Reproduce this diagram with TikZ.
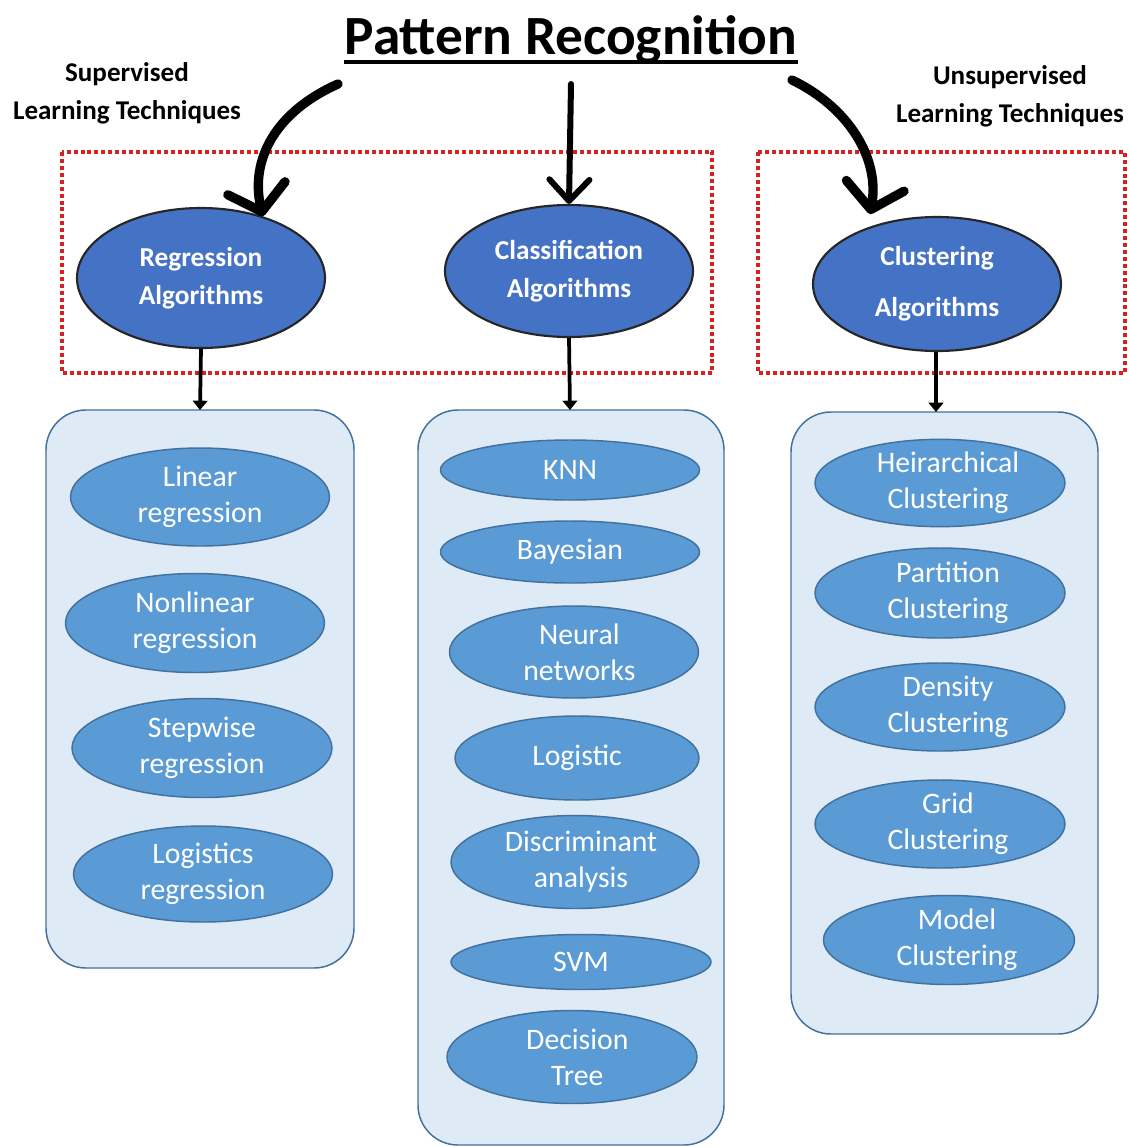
\documentclass[tikz,border=0pt]{standalone}
\usepackage{fontspec}
\setmainfont{Carlito}
\usetikzlibrary{shapes.geometric,arrows.meta}
\definecolor{darkblue}{HTML}{4472C4}
\definecolor{midblue}{HTML}{5B9BD5}
\definecolor{edgeblue}{HTML}{41719C}
\definecolor{paleblue}{HTML}{DEEAF6}
\definecolor{dotred}{HTML}{D42222}
\tikzset{
  topoval/.style n args={2}{ellipse, draw=black!85, line width=1.6pt, fill=darkblue,
    text=white, inner sep=0pt, minimum width=#1*0.75pt, minimum height=#2*0.75pt,
    align=center, font=\bfseries\fontsize{20.5}{28.5}\selectfont},
  oval/.style n args={2}{ellipse, draw=edgeblue, line width=1.1pt, fill=midblue,
    text=white, inner sep=0pt, minimum width=#1*0.75pt, minimum height=#2*0.75pt,
    align=center, font=\fontsize{22.3}{27}\selectfont},
  groupbox/.style={draw=edgeblue, line width=1.1pt, fill=paleblue, rounded corners=30pt},
  redframe/.style={draw=dotred, line width=3pt, dash pattern=on 3pt off 2.2pt},
  bigarrow/.style={line width=7pt, line cap=round,
    -{Straight Barb[length=18pt, width=44pt, round]}},
  midarrow/.style={line width=4.5pt, line cap=round,
    -{Straight Barb[length=16pt, width=30pt, round]}},
  smallarrow/.style={line width=2.8pt, -{Triangle[length=7pt, width=11pt]}},
  sidelabel/.style={align=center, font=\bfseries\fontsize{20.3}{28.5}\selectfont}
}
\begin{document}
\begin{tikzpicture}[x=0.75pt,y=-0.75pt]
\useasboundingbox (0,0) rectangle (1130,1147);

% title
\node[anchor=base, inner sep=0pt, font=\bfseries\fontsize{41.5}{48}\selectfont] (title) at (571,54) {Pattern Recognition};
\draw[line width=2.4pt] ([yshift=-6pt]title.base west) -- ([yshift=-6pt]title.base east);

% side labels
\node[sidelabel] (sup) at (127,93) {Supervised\\Learning Techniques};
\node[sidelabel] (unsup) at (1010,96) {Unsupervised\\Learning Techniques};

% dotted frames
\draw[redframe] (62,152) rectangle (712,373);
\draw[redframe] (758,152) rectangle (1125,373);

% algorithm families
\node[topoval={248}{140}] (reg) at (201,278) {Regression\\Algorithms};
\node[topoval={248}{132}] (cls) at (569,271) {Classification\\Algorithms};
\node[topoval={248}{134}, font=\bfseries\fontsize{20.5}{38}\selectfont] (clu) at (937,284) {Clustering\\Algorithms};

% arrows from the title
\coordinate (startL) at (338,84);
\coordinate (startM) at (571,84);
\coordinate (startR) at (792,80);
\coordinate (tipR) at (870,214);
\draw[bigarrow] (startL) .. controls (275,112) and (250,160) .. (reg.45);
\draw[midarrow] (startM) -- (cls.north);
\draw[bigarrow] (startR) .. controls (850,108) and (880,160) .. (tipR);

% group boxes
\draw[groupbox] (46,410) rectangle (354,968);
\draw[groupbox] (418,410) rectangle (724,1145);
\draw[groupbox] (791,412) rectangle (1098,1034);
\coordinate (box1top) at (200,410);
\coordinate (box2top) at (570,410);
\coordinate (box3top) at (936,412);

\draw[smallarrow] (reg.south) -- (box1top);
\draw[smallarrow] (cls.south) -- (box2top);
\draw[smallarrow] (clu.south -| box3top) -- (box3top);

% regression methods
\node[oval={259}{98}] (lin) at (200,497) {Linear\\regression};
\node[oval={259}{99}] (nonlin) at (195,623) {Nonlinear\\regression};
\node[oval={260}{99}] (stepw) at (202,748) {Stepwise\\regression};
\node[oval={259}{96}] (logreg) at (203,874) {Logistics\\regression};

% classification methods
\node[oval={259}{60}] (knn) at (570,470) {KNN};
\node[oval={259}{62}] (bay) at (570,552) {Bayesian};
\node[oval={249}{92}] (nn) at (574,652) {\hspace*{8pt}Neural\\\hspace*{8pt}networks};
\node[oval={244}{84}] (logi) at (577,758) {Logistic};
\node[oval={248}{93}] (disc) at (575,862) {\hspace*{9pt}Discriminant\\\hspace*{9pt}analysis};
\node[oval={260}{55}] (svm) at (581,962) {SVM};
\node[oval={250}{93}] (tree) at (572,1057) {\hspace*{8pt}Decision\\\hspace*{8pt}Tree};

% clustering methods
\node[oval={250}{81}] (hier) at (940,483) {\hspace*{12pt}Heirarchical\\\hspace*{12pt}Clustering};
\node[oval={250}{90}] (part) at (940,593) {\hspace*{12pt}Partition\\\hspace*{12pt}Clustering};
\node[oval={250}{88}] (dens) at (940,707) {\hspace*{12pt}Density\\\hspace*{12pt}Clustering};
\node[oval={250}{88}] (grid) at (940,824) {\hspace*{12pt}Grid\\\hspace*{12pt}Clustering};
\node[oval={251}{89}] (model) at (949,940) {\hspace*{12pt}Model\\\hspace*{12pt}Clustering};
\end{tikzpicture}
\end{document}
